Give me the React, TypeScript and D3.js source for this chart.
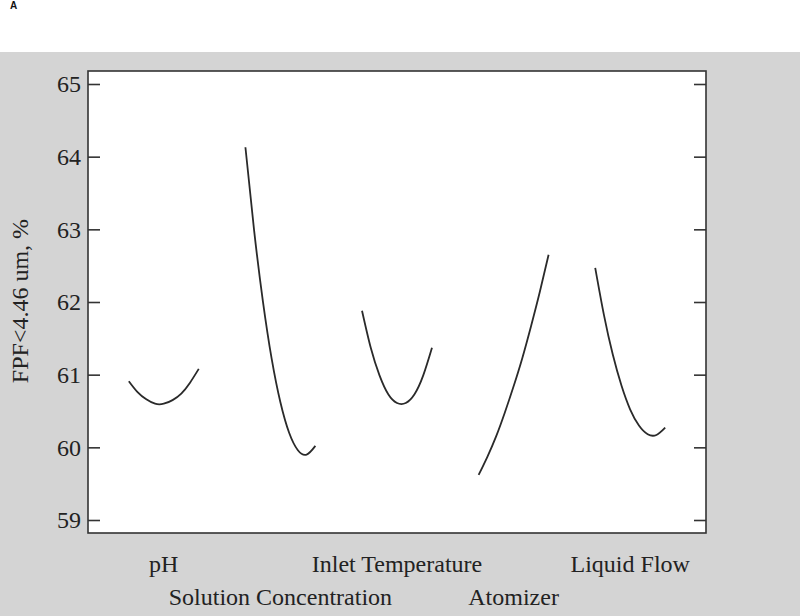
import React, { useEffect, useRef } from 'react';
import * as d3 from 'd3';

// factor names, in the order they sit along the x axis
const factors = ['pH', 'Solution Concentration', 'Inlet Temperature', 'Atomizer', 'Liquid Flow'];
// coded level of each factor (low .. high)
const levels = [-1, -0.75, -0.5, -0.25, 0, 0.25, 0.5, 0.75, 1];

// predicted FPF
const phValues = [60.91, 60.76, 60.66, 60.6, 60.6, 60.65, 60.74, 60.89, 61.08];
const concValues = [64.13, 62.98, 62.01, 61.22, 60.62, 60.2, 59.96, 59.9, 60.02];
const inletValues = [61.88, 61.37, 60.99, 60.73, 60.61, 60.61, 60.73, 60.99, 61.37];
const atomizerValues = [59.62, 59.87, 60.15, 60.48, 60.84, 61.23, 61.67, 62.14, 62.65];
const flowValues = [62.47, 61.82, 61.28, 60.85, 60.52, 60.3, 60.18, 60.17, 60.27];

const yTicks = [59, 60, 61, 62, 63, 64, 65];

const serif = '"Liberation Serif", "Times New Roman", serif';
const fs = 24;

function App() {
  const svgRef = useRef<SVGSVGElement>(null);

  useEffect(() => {
    const svg = d3.select(svgRef.current);
    svg.selectAll('*').remove();

    const W = 800, H = 616;
    const box = { left: 88, right: 706, top: 71, bottom: 533 };

    // page background: white strip then grey panel
    svg.append('rect').attr('width', W).attr('height', H).attr('fill', '#fff');
    svg.append('rect').attr('y', 52).attr('width', W).attr('height', H - 52).attr('fill', '#d4d4d4');

    svg.append('text')
      .attr('x', 10).attr('y', 9)
      .attr('font-family', 'Arial, "Liberation Sans", sans-serif')
      .attr('font-weight', 'bold')
      .attr('font-size', 10)
      .attr('fill', '#111')
      .text('A');

    svg.append('rect')
      .attr('x', box.left).attr('y', box.top)
      .attr('width', box.right - box.left).attr('height', box.bottom - box.top)
      .attr('fill', '#fff')
      .attr('stroke', '#333')
      .attr('stroke-width', 1.6);

    const y = d3.scaleLinear().domain([59, 65]).range([520, 84]);

    const x = d3.scaleBand<string>()
      .domain(factors)
      .range([box.left, box.right])
      .paddingInner(0.4)
      .paddingOuter(0.35);

    const lvl = d3.scaleLinear().domain([-1, 1]).range([0, x.bandwidth()]);

    // left axis, ticks pointing in
    const left = svg.append('g')
      .attr('transform', `translate(${box.left},0)`)
      .call(d3.axisLeft(y).tickValues(yTicks).tickSize(-12).tickPadding(7).tickFormat(d3.format('d')));
    left.select('.domain').remove();
    left.selectAll('line').attr('stroke', '#333').attr('stroke-width', 1.6);
    left.selectAll('text')
      .attr('font-family', serif).attr('font-size', fs).attr('fill', '#222');

    // right axis, ticks only
    const right = svg.append('g')
      .attr('transform', `translate(${box.right},0)`)
      .call(d3.axisRight(y).tickValues(yTicks).tickSize(-12).tickFormat(() => ''));
    right.select('.domain').remove();
    right.selectAll('line').attr('stroke', '#333').attr('stroke-width', 1.6);

    svg.append('text')
      .attr('transform', 'translate(28,301) rotate(-90)')
      .attr('text-anchor', 'middle')
      .attr('font-family', serif).attr('font-size', fs).attr('fill', '#222')
      .text('FPF<4.46 um, %');

    const series = [phValues, concValues, inletValues, atomizerValues, flowValues];

    const line = d3.line<[number, number]>()
      .x((d) => d[0])
      .y((d) => d[1])
      .curve(d3.curveNatural);

    factors.forEach((f, i) => {
      const x0 = x(f) || 0;
      const pts: [number, number][] = levels.map((l, j) => [x0 + lvl(l), y(series[i][j])]);
      svg.append('path')
        .attr('d', line(pts))
        .attr('fill', 'none')
        .attr('stroke', '#2a2a2a')
        .attr('stroke-width', 1.8);

      svg.append('text')
        .attr('x', x0 + x.bandwidth() / 2)
        .attr('y', i % 2 === 0 ? 572 : 605)
        .attr('text-anchor', 'middle')
        .attr('font-family', serif).attr('font-size', fs).attr('fill', '#222')
        .text(f);
    });
  }, []);

  return (
    <svg ref={svgRef} width="800" height="616" style={{ position: 'absolute', left: 0, top: 0 }}></svg>
  );
}

export default App;
